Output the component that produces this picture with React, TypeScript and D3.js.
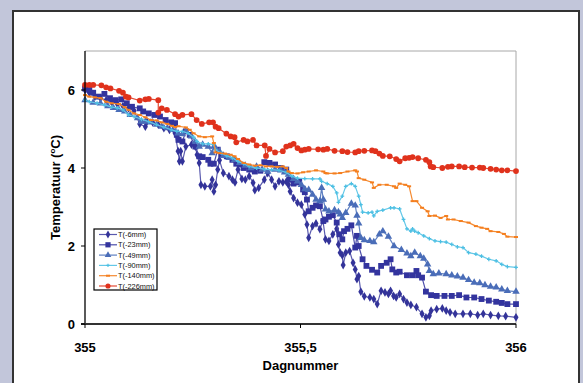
import * as d3 from "d3";
import { useRef, useEffect } from "react";

// data: [dagnummer, temperatuur]
const t6mm: [number, number][] = [
  [355.000,6.00],[355.010,5.93],[355.023,5.83],[355.036,5.79],[355.049,5.74],[355.062,5.68],[355.075,5.64],[355.088,5.59],
  [355.101,5.53],[355.114,5.47],[355.127,5.13],[355.140,5.06],[355.144,5.19],[355.157,5.17],[355.170,5.11],[355.183,5.02],
  [355.196,4.98],[355.209,4.89],[355.216,4.43],[355.219,4.17],[355.222,4.43],[355.226,4.17],[355.234,4.55],[355.247,4.60],
  [355.256,4.55],[355.260,4.34],[355.265,4.13],[355.269,3.57],[355.278,3.53],[355.291,3.53],[355.295,3.70],[355.299,3.40],
  [355.303,3.57],[355.308,3.96],[355.312,4.20],[355.321,3.87],[355.334,3.79],[355.342,3.70],[355.348,3.63],[355.355,3.96],
  [355.364,3.72],[355.372,3.70],[355.381,3.79],[355.390,3.62],[355.394,3.43],[355.403,3.49],[355.416,3.70],[355.424,3.87],
  [355.433,3.70],[355.441,3.53],[355.450,3.66],[355.459,3.63],[355.467,3.65],[355.472,3.57],[355.476,3.40],[355.484,3.23],
  [355.493,3.11],[355.502,3.06],[355.510,2.81],[355.515,2.55],[355.519,2.21],[355.528,2.51],[355.536,2.58],[355.545,2.43],
  [355.552,2.66],[355.558,2.17],[355.566,2.13],[355.575,2.30],[355.584,2.44],[355.588,2.04],[355.592,1.83],[355.597,1.76],
  [355.599,1.51],[355.605,1.83],[355.614,1.87],[355.622,1.57],[355.627,1.40],[355.631,1.15],[355.635,1.23],[355.640,0.83],
  [355.648,0.71],[355.661,0.68],[355.670,0.64],[355.678,0.51],[355.687,0.85],[355.696,0.81],[355.704,0.77],[355.709,0.85],
  [355.716,0.72],[355.722,0.68],[355.730,0.77],[355.739,0.64],[355.747,0.55],[355.756,0.49],[355.769,0.43],[355.782,0.26],
  [355.791,0.17],[355.799,0.21],[355.803,0.34],[355.816,0.38],[355.829,0.40],[355.838,0.34],[355.847,0.30],[355.859,0.26],
  [355.877,0.26],[355.894,0.26],[355.911,0.23],[355.924,0.26],[355.941,0.23],[355.959,0.21],[355.976,0.20],[356.000,0.17],
];

const t23mm: [number, number][] = [
  [355.000,6.04],[355.010,6.00],[355.019,5.93],[355.032,5.83],[355.045,5.90],[355.058,5.79],[355.071,5.74],[355.084,5.76],
  [355.097,5.66],[355.109,5.57],[355.127,5.53],[355.135,5.45],[355.148,5.40],[355.161,5.36],[355.174,5.32],[355.187,5.23],
  [355.200,5.17],[355.209,5.15],[355.213,4.85],[355.217,4.72],[355.226,4.68],[355.234,4.94],[355.243,4.85],[355.256,4.55],
  [355.265,4.30],[355.273,4.28],[355.286,4.21],[355.291,4.11],[355.299,4.11],[355.308,4.47],[355.316,4.34],[355.329,4.30],
  [355.342,4.21],[355.351,4.11],[355.359,4.09],[355.368,4.00],[355.381,3.96],[355.394,3.91],[355.407,3.93],[355.416,4.15],
  [355.428,4.13],[355.441,4.09],[355.454,4.00],[355.467,3.96],[355.474,3.70],[355.484,3.60],[355.493,3.63],[355.497,3.65],
  [355.506,3.45],[355.510,3.38],[355.515,3.19],[355.519,2.89],[355.528,2.98],[355.536,3.04],[355.545,3.02],[355.553,2.64],
  [355.558,2.68],[355.566,2.75],[355.575,2.79],[355.584,2.60],[355.590,2.30],[355.597,2.17],[355.601,2.38],[355.609,2.44],
  [355.618,2.53],[355.627,1.96],[355.631,2.26],[355.635,2.00],[355.644,1.66],[355.653,1.49],[355.666,1.39],[355.678,1.32],
  [355.687,1.49],[355.700,1.57],[355.709,1.66],[355.713,1.40],[355.722,1.32],[355.730,1.34],[355.747,1.25],[355.760,1.25],
  [355.769,1.36],[355.773,1.25],[355.782,1.19],[355.791,0.83],[355.803,0.74],[355.816,0.72],[355.834,0.72],[355.851,0.72],
  [355.868,0.74],[355.885,0.68],[355.903,0.68],[355.920,0.64],[355.937,0.60],[355.954,0.57],[355.967,0.54],[355.980,0.51],
  [356.000,0.51],
];

const t49mm: [number, number][] = [
  [355.000,5.74],[355.019,5.68],[355.036,5.66],[355.053,5.59],[355.066,5.54],[355.079,5.49],[355.092,5.45],[355.105,5.36],
  [355.122,5.28],[355.131,5.19],[355.140,5.19],[355.153,5.17],[355.166,5.11],[355.178,5.06],[355.191,5.02],[355.204,4.98],
  [355.216,4.89],[355.226,4.87],[355.234,4.94],[355.247,4.81],[355.256,4.68],[355.265,4.55],[355.273,4.60],[355.286,4.55],
  [355.295,4.38],[355.299,4.55],[355.303,4.51],[355.312,4.43],[355.321,4.31],[355.334,4.26],[355.347,4.21],[355.359,4.13],
  [355.372,4.06],[355.385,4.00],[355.398,4.04],[355.411,3.96],[355.424,3.91],[355.441,3.96],[355.454,3.94],[355.463,3.89],
  [355.472,3.83],[355.484,3.72],[355.493,3.66],[355.502,3.57],[355.510,3.46],[355.519,3.44],[355.528,3.32],[355.536,3.19],
  [355.545,3.15],[355.549,3.49],[355.553,3.19],[355.558,2.94],[355.566,2.89],[355.579,2.92],[355.588,2.87],[355.592,2.81],
  [355.597,2.72],[355.605,2.85],[355.618,3.09],[355.627,3.04],[355.631,2.78],[355.635,2.58],[355.640,2.21],[355.648,2.15],
  [355.661,2.13],[355.670,2.10],[355.683,2.30],[355.691,2.38],[355.704,2.24],[355.717,2.00],[355.734,1.90],[355.747,1.81],
  [355.756,1.74],[355.765,1.83],[355.778,1.74],[355.786,1.68],[355.795,1.53],[355.799,1.36],[355.808,1.28],[355.821,1.30],
  [355.838,1.28],[355.851,1.25],[355.864,1.22],[355.877,1.19],[355.890,1.13],[355.903,1.06],[355.916,1.05],[355.928,1.00],
  [355.941,0.96],[355.954,0.94],[355.967,0.89],[355.980,0.85],[356.000,0.83],
];

const t90mm: [number, number][] = [
  [355.000,5.74],[355.010,5.70],[355.028,5.66],[355.045,5.62],[355.062,5.56],[355.075,5.54],[355.088,5.49],[355.101,5.36],
  [355.114,5.32],[355.131,5.25],[355.148,5.19],[355.166,5.11],[355.183,5.05],[355.200,4.98],[355.213,4.94],[355.226,4.94],
  [355.239,4.89],[355.252,4.79],[355.260,4.68],[355.273,4.62],[355.286,4.62],[355.299,4.60],[355.303,4.47],[355.316,4.38],
  [355.329,4.31],[355.342,4.26],[355.355,4.17],[355.368,4.11],[355.381,4.04],[355.398,4.00],[355.416,3.97],[355.433,3.96],
  [355.450,3.94],[355.467,3.89],[355.480,3.79],[355.493,3.74],[355.510,3.73],[355.528,3.72],[355.545,3.72],[355.549,3.66],
  [355.562,3.60],[355.575,3.53],[355.584,3.36],[355.588,3.12],[355.597,3.28],[355.605,3.53],[355.618,3.60],[355.627,3.53],
  [355.635,3.28],[355.640,3.06],[355.644,2.87],[355.657,2.85],[355.666,2.87],[355.670,2.77],[355.678,2.89],[355.691,2.92],
  [355.709,2.98],[355.717,2.98],[355.730,2.95],[355.739,2.68],[355.747,2.44],[355.756,2.38],[355.760,2.44],[355.765,2.38],
  [355.773,2.34],[355.786,2.26],[355.799,2.19],[355.812,2.13],[355.825,2.11],[355.838,2.10],[355.851,2.04],[355.864,1.98],
  [355.877,1.96],[355.890,1.83],[355.907,1.79],[355.920,1.74],[355.937,1.66],[355.954,1.62],[355.967,1.53],[355.980,1.47],
  [356.000,1.45],
];

const t140mm: [number, number][] = [
  [355.000,5.87],[355.010,5.83],[355.023,5.81],[355.036,5.79],[355.049,5.70],[355.062,5.66],[355.079,5.64],[355.092,5.56],
  [355.101,5.49],[355.114,5.40],[355.127,5.36],[355.140,5.30],[355.153,5.23],[355.166,5.22],[355.178,5.17],[355.191,5.13],
  [355.202,5.08],[355.209,5.05],[355.217,5.07],[355.234,5.04],[355.243,4.98],[355.252,4.89],[355.265,4.81],[355.278,4.79],
  [355.295,4.81],[355.299,4.64],[355.303,4.40],[355.312,4.38],[355.325,4.37],[355.338,4.34],[355.347,4.30],[355.355,4.23],
  [355.368,4.13],[355.381,4.09],[355.394,4.06],[355.407,4.07],[355.420,4.04],[355.433,4.04],[355.446,4.03],[355.459,4.04],
  [355.467,4.00],[355.472,3.91],[355.480,3.87],[355.493,3.86],[355.506,3.89],[355.519,3.91],[355.536,3.94],[355.553,3.91],
  [355.558,3.87],[355.562,3.86],[355.579,3.86],[355.592,3.87],[355.609,3.91],[355.627,3.94],[355.631,3.91],[355.635,3.74],
  [355.648,3.70],[355.666,3.63],[355.670,3.49],[355.683,3.57],[355.700,3.57],[355.717,3.53],[355.722,3.49],[355.730,3.60],
  [355.743,3.57],[355.752,3.53],[355.760,3.15],[355.769,3.15],[355.782,2.98],[355.795,2.89],[355.799,2.77],[355.812,2.78],
  [355.825,2.72],[355.838,2.77],[355.842,2.68],[355.855,2.68],[355.872,2.64],[355.890,2.60],[355.907,2.51],[355.920,2.47],
  [355.933,2.44],[355.941,2.38],[355.959,2.36],[355.972,2.31],[355.980,2.24],[356.000,2.23],
];

const t226mm: [number, number][] = [
  [355.000,6.13],[355.010,6.13],[355.019,6.13],[355.038,6.12],[355.049,6.07],[355.059,6.04],[355.079,5.98],[355.088,5.93],
  [355.095,5.83],[355.101,5.81],[355.127,5.73],[355.140,5.76],[355.148,5.77],[355.170,5.74],[355.170,5.42],[355.178,5.53],
  [355.190,5.49],[355.209,5.38],[355.217,5.32],[355.226,5.36],[355.247,5.38],[355.259,5.23],[355.271,5.13],[355.288,5.17],
  [355.297,5.17],[355.303,5.06],[355.310,5.02],[355.328,4.88],[355.338,4.81],[355.347,4.79],[355.351,4.66],[355.368,4.72],
  [355.377,4.68],[355.390,4.72],[355.398,4.58],[355.417,4.58],[355.420,4.31],[355.428,4.49],[355.441,4.40],[355.459,4.43],
  [355.467,4.55],[355.476,4.58],[355.484,4.62],[355.493,4.51],[355.502,4.45],[355.510,4.47],[355.519,4.49],[355.541,4.48],
  [355.553,4.47],[355.562,4.49],[355.579,4.44],[355.597,4.43],[355.609,4.41],[355.627,4.40],[355.635,4.43],[355.648,4.44],
  [355.666,4.45],[355.674,4.43],[355.683,4.37],[355.691,4.31],[355.707,4.30],[355.722,4.23],[355.730,4.17],[355.743,4.25],
  [355.752,4.26],[355.760,4.28],[355.773,4.25],[355.791,4.21],[355.799,4.15],[355.802,4.04],[355.808,4.02],[355.829,4.00],
  [355.842,4.03],[355.851,4.04],[355.868,4.04],[355.881,4.02],[355.898,4.01],[355.916,4.01],[355.924,4.00],[355.941,3.98],
  [355.954,3.96],[355.967,3.94],[355.980,3.94],[356.000,3.92],
];

const seriesNames = ["T(-6mm)", "T(-23mm)", "T(-49mm)", "T(-90mm)", "T(-140mm)", "T(-226mm)"];
const seriesData = [t6mm, t23mm, t49mm, t90mm, t140mm, t226mm];
const xTicks = [355, 355.5, 356];
const xTickLabels = ["355", "355,5", "356"];
const yTicks = [0, 2, 4, 6];

const styles = [
  { color: "#333399", line: "#5a5aae", symbol: d3.symbolDiamond, size: 22 },
  { color: "#33349e", line: "#4d4eaa", symbol: d3.symbolSquare, size: 34 },
  { color: "#4a6db8", line: "#5f80c2", symbol: d3.symbolTriangle, size: 24 },
  { color: "#4cbfe3", line: "#63c8e8", symbol: d3.symbolCross, size: 8 },
  { color: "#f47e1e", line: "#f58a30", symbol: null, size: 0 },
  { color: "#e0321c", line: "#e44a34", symbol: d3.symbolCircle, size: 26 },
];

export default function App() {
  const ref = useRef<SVGSVGElement>(null);

  const width = 583;
  const height = 383;
  const marginLeft = 85;
  const marginTop = 51;
  const plotRight = 516;
  const plotBottom = 324;
  const font = "Arial, 'Liberation Sans', sans-serif";

  useEffect(() => {
    const svg = d3.select(ref.current);
    svg.selectAll("*").remove();

    svg.append("rect").attr("width", width).attr("height", height).attr("fill", "#c2c6da");
    svg.append("rect")
      .attr("x", 13).attr("y", 11).attr("width", 566).attr("height", 400)
      .attr("fill", "#ffffff").attr("stroke", "#333333").attr("stroke-width", 2);

    const x = d3.scaleLinear().domain([355, 356]).range([marginLeft, plotRight]);
    const y = d3.scaleLinear().domain([0, 7]).range([plotBottom, marginTop]);

    // plot area frame (top/right grey)
    svg.append("path")
      .attr("d", `M${marginLeft},${marginTop}H${plotRight}V${plotBottom}`)
      .attr("fill", "none").attr("stroke", "#a8a8a8").attr("stroke-width", 1);

    const line = d3.line<[number, number]>().x(d => x(d[0])).y(d => y(d[1]));

    seriesData.forEach((data, i) => {
      const st = styles[i];
      const g = svg.append("g");
      g.append("path")
        .datum(data)
        .attr("d", line)
        .attr("fill", "none")
        .attr("stroke", st.line)
        .attr("stroke-width", 1.2)
        .attr("stroke-linejoin", "round");
      if (st.symbol) {
        g.selectAll("path.m")
          .data(data)
          .join("path")
          .attr("class", "m")
          .attr("transform", d => `translate(${x(d[0])},${y(d[1])})`)
          .attr("d", d3.symbol(st.symbol, st.size)())
          .attr("fill", st.color);
      } else {
        g.selectAll("rect.m")
          .data(data)
          .join("rect")
          .attr("class", "m")
          .attr("x", d => x(d[0]) - 2)
          .attr("y", d => y(d[1]) - 1)
          .attr("width", 4).attr("height", 2)
          .attr("fill", st.color);
      }
    });

    // axes
    svg.append("line")
      .attr("x1", marginLeft).attr("x2", marginLeft).attr("y1", marginTop).attr("y2", plotBottom)
      .attr("stroke", "#000").attr("stroke-width", 1.3);
    svg.append("line")
      .attr("x1", marginLeft - 4).attr("x2", plotRight).attr("y1", plotBottom).attr("y2", plotBottom)
      .attr("stroke", "#333").attr("stroke-width", 1.8);

    svg.append("g").selectAll("line")
      .data(yTicks).join("line")
      .attr("x1", marginLeft - 4).attr("x2", marginLeft)
      .attr("y1", d => y(d)).attr("y2", d => y(d))
      .attr("stroke", "#000");
    svg.append("g").selectAll("text")
      .data(yTicks).join("text")
      .attr("x", marginLeft - 10).attr("y", d => y(d) + 4.5)
      .attr("text-anchor", "end")
      .attr("font-family", font).attr("font-size", 13).attr("font-weight", "bold")
      .text(d => String(d));

    svg.append("g").selectAll("line")
      .data(xTicks).join("line")
      .attr("x1", d => x(d)).attr("x2", d => x(d))
      .attr("y1", plotBottom).attr("y2", plotBottom + 4)
      .attr("stroke", "#000");
    svg.append("g").selectAll("text")
      .data(xTicks).join("text")
      .attr("x", d => x(d)).attr("y", 352)
      .attr("text-anchor", "middle")
      .attr("font-family", font).attr("font-size", 13).attr("font-weight", "bold")
      .text((d, i) => xTickLabels[i]);

    svg.append("text")
      .attr("x", (marginLeft + plotRight) / 2).attr("y", 370)
      .attr("text-anchor", "middle")
      .attr("font-family", font).attr("font-size", 13).attr("font-weight", "bold")
      .text("Dagnummer");

    const yTitle = svg.append("text")
      .attr("transform", `translate(60,${(marginTop + plotBottom) / 2}) rotate(-90)`)
      .attr("text-anchor", "middle")
      .attr("font-family", font).attr("font-size", 13).attr("font-weight", "bold");
    yTitle.append("tspan").text("Temperatuur (");
    yTitle.append("tspan").attr("font-size", 8).attr("dy", -5).text("o");
    yTitle.append("tspan").attr("dy", 5).text("C)");

    // legend
    const legend = svg.append("g").attr("transform", "translate(94,229)");
    legend.append("rect")
      .attr("width", 63).attr("height", 61)
      .attr("fill", "#fff").attr("stroke", "#000").attr("stroke-width", 1.2);
    seriesNames.forEach((name, i) => {
      const st = styles[i];
      const ly = 5.5 + i * 10.3;
      const row = legend.append("g").attr("transform", `translate(0,${ly})`);
      row.append("line")
        .attr("x1", 5).attr("x2", 23).attr("y1", 0).attr("y2", 0)
        .attr("stroke", st.line).attr("stroke-width", 1.2);
      if (st.symbol) {
        row.append("path")
          .attr("transform", "translate(14,0)")
          .attr("d", d3.symbol(st.symbol, st.size * 0.8)())
          .attr("fill", st.color);
      } else {
        row.append("rect").attr("x", 12).attr("y", -1).attr("width", 4).attr("height", 2).attr("fill", st.color);
      }
      row.append("text")
        .attr("x", 24).attr("y", 2.6)
        .attr("font-family", font).attr("font-size", 7.4)
        .attr("fill", "#111")
        .text(name);
    });
  }, []);

  return (
    <svg ref={ref} width={width} height={height}
      style={{ position: "absolute", left: 0, top: 0, display: "block" }} />
  );
}
